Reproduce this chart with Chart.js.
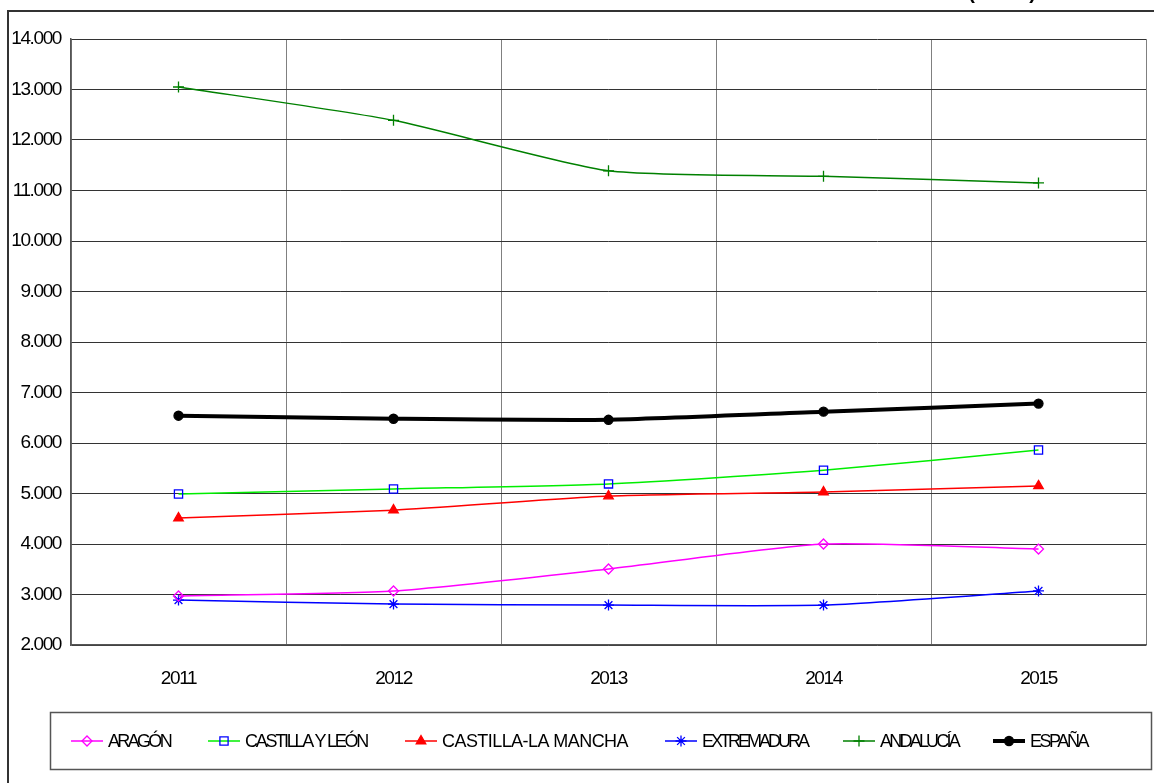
<!DOCTYPE html>
<html>
<head>
<meta charset="utf-8">
<script src="https://cdn.jsdelivr.net/npm/chart.js@4/dist/chart.umd.min.js"></script>
<style>
  html, body { margin: 0; padding: 0; background: #fff; }
  #wrap { width: 1154px; height: 783px; position: relative; }
</style>
</head>
<body>
<div id="wrap"><canvas id="c" width="1154" height="783"></canvas></div>
<script>
const years = ['2011', '2012', '2013', '2014', '2015'];
const aragon = [2970, 3070, 3505, 4000, 3900];
const castillaLeon = [4990, 5090, 5190, 5460, 5860];
const castillaMancha = [4515, 4670, 4950, 5030, 5150];
const extremadura = [2890, 2810, 2790, 2790, 3070];
const andalucia = [13050, 12390, 11390, 11280, 11150];
const espana = [6540, 6480, 6460, 6620, 6780];
const yMin = 2000, yMax = 14000, yStep = 1000;

const FONT = "'Liberation Sans', Arial, sans-serif";
const AXIS_SPACING = '-1.4px';
// legend layout: start of each item's sample line and end of its text
const legendStarts = [71, 208, 405, 665, 843, 993];
const legendEnds = [170, 367, 628, 807, 958, 1087];

function ds(label, data, line, pColor, pStyle, pRadius, filled, width) {
  return {
    label, data,
    borderColor: line,
    backgroundColor: filled ? pColor : 'rgba(0,0,0,0)',
    borderWidth: width || 1.5,
    pointStyle: pStyle,
    pointRadius: pRadius,
    pointBorderColor: pColor,
    pointBackgroundColor: filled ? pColor : 'rgba(0,0,0,0)',
    pointBorderWidth: 1.3,
    tension: 0.2,
    fill: false
  };
}

const datasets = [
  ds('ARAGÓN', aragon, '#ff00ff', '#ff00ff', 'rectRot', 5, false),
  ds('CASTILLA Y LEÓN', castillaLeon, '#00ee00', '#0000ff', 'rect', 5.8, false),
  ds('CASTILLA-LA MANCHA', castillaMancha, '#ff0000', '#ff0000', 'triangle', 5.5, true),
  ds('EXTREMADURA', extremadura, '#0000ff', '#0000ff', 'star', 5.5, false),
  ds('ANDALUCÍA', andalucia, '#008000', '#008000', 'cross', 5.5, false),
  ds('ESPAÑA', espana, '#000000', '#000000', 'circle', 4.5, true, 4)
];

const frame = {
  id: 'frame',
  beforeUpdate(chart) { chart.ctx.letterSpacing = AXIS_SPACING; },
  beforeDraw(chart) {
    const ctx = chart.ctx;
    ctx.save();
    ctx.fillStyle = '#fff';
    ctx.fillRect(0, 0, chart.width, chart.height);
    ctx.strokeStyle = '#333';
    ctx.lineWidth = 2;
    ctx.beginPath();
    ctx.moveTo(8, 783); ctx.lineTo(8, 11); ctx.lineTo(1154, 11);
    ctx.stroke();
    // clipped title (only its lower edge is visible)
    ctx.letterSpacing = '0px';
    ctx.fillStyle = '#000';
    ctx.font = "bold 20px 'Liberation Sans', Arial, sans-serif";
    ctx.textAlign = 'right';
    ctx.textBaseline = 'alphabetic';
    ctx.fillText('(euros)', 1036, -1);
    ctx.restore();
    ctx.letterSpacing = AXIS_SPACING;
  },
  afterDraw(chart) {
    const ctx = chart.ctx;
    ctx.save();
    ctx.strokeStyle = '#555';
    ctx.lineWidth = 1.5;
    ctx.strokeRect(50.5, 712.5, 1101, 57);
    ctx.font = '18px ' + FONT;
    ctx.textBaseline = 'middle';
    ctx.textAlign = 'left';
    const y = 741;
    chart.data.datasets.forEach((d, i) => {
      const x = legendStarts[i];
      ctx.strokeStyle = d.borderColor;
      ctx.lineWidth = d.borderWidth;
      ctx.beginPath();
      ctx.moveTo(x, y); ctx.lineTo(x + 32, y);
      ctx.stroke();
      ctx.fillStyle = d.pointBackgroundColor;
      ctx.strokeStyle = d.pointBorderColor;
      ctx.lineWidth = d.pointBorderWidth;
      Chart.helpers.drawPoint(ctx, { pointStyle: d.pointStyle, radius: d.pointRadius, borderWidth: d.pointBorderWidth, rotation: 0 }, x + 16, y);
      ctx.fillStyle = '#000';
      ctx.letterSpacing = '0px';
      const natural = ctx.measureText(d.label).width;
      const target = legendEnds[i] - (x + 37);
      const n = [...d.label].length;
      ctx.letterSpacing = ((target - natural) / n).toFixed(2) + 'px';
      ctx.fillText(d.label, x + 37, y + 1);
    });
    ctx.restore();
  }
};

new Chart(document.getElementById('c'), {
  type: 'line',
  data: { labels: years, datasets },
  options: {
    responsive: false,
    animation: false,
    layout: { padding: { top: 39, right: 8, left: 0, bottom: 0 } },
    plugins: { legend: { display: false }, tooltip: { enabled: false } },
    scales: {
      x: {
        offset: true,
        grid: { offset: true, color: '#808080', lineWidth: 1, drawTicks: false },
        border: { color: '#555', width: 1.5 },
        ticks: { color: '#000', font: { family: FONT, size: 19 }, padding: 22, maxRotation: 0 },
        afterFit(s) { s.height = 138; }
      },
      y: {
        min: yMin, max: yMax,
        grid: { color: '#333', lineWidth: 1, drawTicks: false },
        border: { color: '#555', width: 1.5 },
        ticks: {
          stepSize: yStep, color: '#000', padding: 10,
          font: { family: FONT, size: 19 },
          callback: v => v.toLocaleString('de-DE', { minimumFractionDigits: 0 })
        },
        afterFit(s) { s.width = 71; }
      }
    }
  },
  plugins: [frame]
});
</script>
</body>
</html>
